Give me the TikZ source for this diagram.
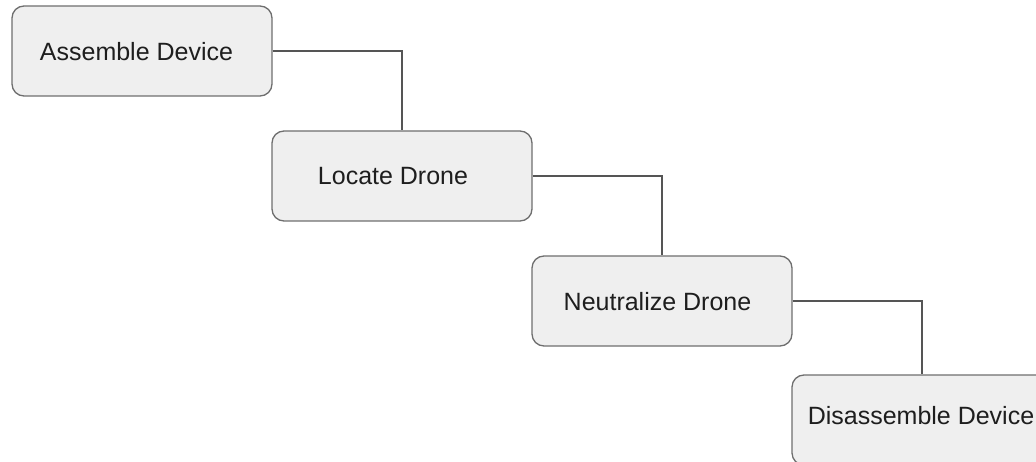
\documentclass[tikz,border=0pt]{standalone}
\usepackage{fontspec}
\setmainfont{Liberation Sans}
\definecolor{boxfill}{HTML}{EFEFEF}
\definecolor{boxline}{HTML}{6E6E6E}
\definecolor{wire}{HTML}{555555}
\definecolor{ink}{HTML}{1E1E1E}
\begin{document}
\begin{tikzpicture}[x=1pt,y=-1pt,
  stepbox/.style={draw=boxline, fill=boxfill, line width=1.3pt,
    rounded corners=12pt, minimum width=260pt, minimum height=90pt,
    inner sep=0pt, anchor=center},
  lbl/.style={text=ink, font=\fontsize{25}{30}\selectfont, inner sep=0pt, anchor=center},
  wireline/.style={draw=wire, line width=1.1pt}]
  \useasboundingbox (0,0) rectangle (1036,462);
  \clip (0,0) rectangle (1036,462);
  % process steps
  \node[stepbox] (b1) at (142,51) {};
  \node[stepbox] (b2) at (402,176) {};
  \node[stepbox] (b3) at (662,301) {};
  \node[stepbox] (b4) at (922,420) {};
  \node[lbl] (t1) at (136.5,52) {Assemble Device};
  \node[lbl] (t2) at (393,176) {Locate Drone};
  \node[lbl] (t3) at (657.5,301.5) {Neutralize Drone};
  \node[lbl] (t4) at (921,416) {Disassemble Device};
  % elbow connectors
  \draw[wireline] (b1.east) -| (b2.north);
  \draw[wireline] (b2.east) -| (b3.north);
  \draw[wireline] (b3.east) -| (b4.north);
\end{tikzpicture}
\end{document}
